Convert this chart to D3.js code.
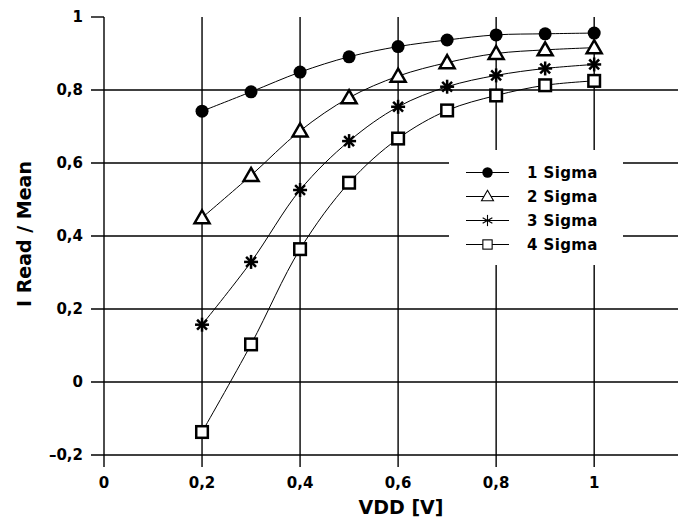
<!DOCTYPE html>
<html><head><meta charset="utf-8">
<script src="https://cdn.jsdelivr.net/npm/d3@7"></script>
<style>body{margin:0;background:#fff}svg{display:block}</style>
</head><body>
<svg id="c" width="678" height="520"></svg>
<script>
const vdd = [0.2,0.3,0.4,0.5,0.6,0.7,0.8,0.9,1.0];
const sigma1 = [0.742,0.795,0.849,0.891,0.919,0.937,0.951,0.954,0.956];
const sigma2 = [0.450,0.566,0.688,0.779,0.838,0.875,0.900,0.910,0.916];
const sigma3 = [0.157,0.329,0.526,0.660,0.754,0.809,0.840,0.859,0.870];
const sigma4 = [-0.137,0.103,0.364,0.546,0.667,0.744,0.785,0.813,0.825];
const seriesNames = ["1 Sigma","2 Sigma","3 Sigma","4 Sigma"];
const markers = ["circle","triangle","asterisk","square"];
const xTicks = [0,0.2,0.4,0.6,0.8,1];
const yTicks = [-0.2,0,0.2,0.4,0.6,0.8,1];

const series = [sigma1,sigma2,sigma3,sigma4];
const svg = d3.select("#c");
const x = d3.scaleLinear().domain([0,1.171]).range([104,678]);
const y = d3.scaleLinear().domain([-0.2,1]).range([455,17]);
const fmt = d => d3.format("")(+d.toFixed(1)).replace(".",",");
const font = "'DejaVu Sans', Verdana, sans-serif";

// horizontal grid (except top at 1)
const gH = svg.append("g");
yTicks.filter(t=>t<1).forEach(t=>{
  gH.append("line").attr("x1",91).attr("x2",678).attr("y1",y(t)).attr("y2",y(t))
    .attr("stroke","#000").attr("stroke-width",1.4);
});
// top tick at 1
svg.append("line").attr("x1",91).attr("x2",x(0)).attr("y1",y(1)).attr("y2",y(1)).attr("stroke","#000").attr("stroke-width",1.4);
// vertical grid
xTicks.forEach(t=>{
  svg.append("line").attr("x1",x(t)).attr("x2",x(t)).attr("y1",y(1)).attr("y2",y(-0.2)+12)
    .attr("stroke","#000").attr("stroke-width",1.4);
});

// legend box background (interrupts grid)
const lg = svg.append("g");
lg.append("rect").attr("x",449).attr("y",150).attr("width",174).attr("height",115).attr("fill","#fff");

// y tick labels
svg.append("g").selectAll("text").data(yTicks).join("text")
  .attr("x",83).attr("y",d=>y(d)).attr("dy","0.36em").attr("text-anchor","end")
  .attr("font-family",font).attr("font-weight","bold").attr("font-size",15)
  .text(d=>d<0?"\u2013"+fmt(-d):fmt(d));
// x tick labels
svg.append("g").selectAll("text").data(xTicks).join("text")
  .attr("x",d=>x(d)).attr("y",488).attr("text-anchor","middle")
  .attr("font-family",font).attr("font-weight","bold").attr("font-size",15)
  .text(d=>fmt(d));

// axis titles
svg.append("text").attr("x",401).attr("y",514).attr("text-anchor","middle")
  .attr("font-family",font).attr("font-weight","bold").attr("font-size",19)
  .text("VDD [V]");
svg.append("text").attr("transform","translate(31,234) rotate(-90)").attr("text-anchor","middle")
  .attr("font-family",font).attr("font-weight","bold").attr("font-size",19)
  .text("I Read / Mean");

// marker drawer
function drawMarker(g, type, cx, cy, big){
  const s = big ? 1 : 0.8;
  const sw = big ? 2.5 : 1.1;
  if(type==="circle"){
    g.append("circle").attr("cx",cx).attr("cy",cy).attr("r",6.5*s).attr("fill","#000");
  } else if(type==="triangle"){
    const w=7.5*s, h=6.5*s;
    g.append("path").attr("d",`M${cx},${cy-h-1}L${cx+w},${cy+h-1}L${cx-w},${cy+h-1}Z`)
      .attr("fill","#fff").attr("stroke","#000").attr("stroke-width",sw).attr("stroke-linejoin","miter");
  } else if(type==="asterisk"){
    const r=7*s;
    const angles = big ? [0,45,90,135] : [90,30,150];
    angles.forEach(a=>{
      const rad=a*Math.PI/180;
      g.append("line").attr("x1",cx-r*Math.cos(rad)).attr("y1",cy-r*Math.sin(rad))
        .attr("x2",cx+r*Math.cos(rad)).attr("y2",cy+r*Math.sin(rad))
        .attr("stroke","#000").attr("stroke-width",sw);
    });
    if(big) g.append("circle").attr("cx",cx).attr("cy",cy).attr("r",2.5).attr("fill","#000");
  } else {
    const h=5.8*s;
    g.append("rect").attr("x",cx-h).attr("y",cy-h).attr("width",2*h).attr("height",2*h)
      .attr("fill","#fff").attr("stroke","#000").attr("stroke-width",sw);
  }
}

// lines
const line = d3.line().x((d,i)=>x(vdd[i])).y(d=>y(d)).curve(d3.curveCatmullRom.alpha(0.5));
series.forEach(s=>{
  svg.append("path").attr("d",line(s)).attr("fill","none").attr("stroke","#000").attr("stroke-width",1);
});
// markers
series.forEach((s,k)=>{
  const g = svg.append("g");
  s.forEach((v,i)=>drawMarker(g, markers[k], x(vdd[i]), y(v), true));
});

// legend entries
const rows=[172.5,196.5,220.5,244.5];
seriesNames.forEach((n,k)=>{
  const g = svg.append("g");
  g.append("line").attr("x1",466).attr("x2",509).attr("y1",rows[k]).attr("y2",rows[k]).attr("stroke","#000").attr("stroke-width",1.2);
  drawMarker(g, markers[k], 487.5, rows[k], false);
  g.append("text").attr("x",527).attr("y",rows[k]).attr("dy","0.36em")
    .attr("font-family",font).attr("font-weight","bold").attr("font-size",15)
    .attr("letter-spacing",0.4).text(n);
});
</script>
</body></html>
